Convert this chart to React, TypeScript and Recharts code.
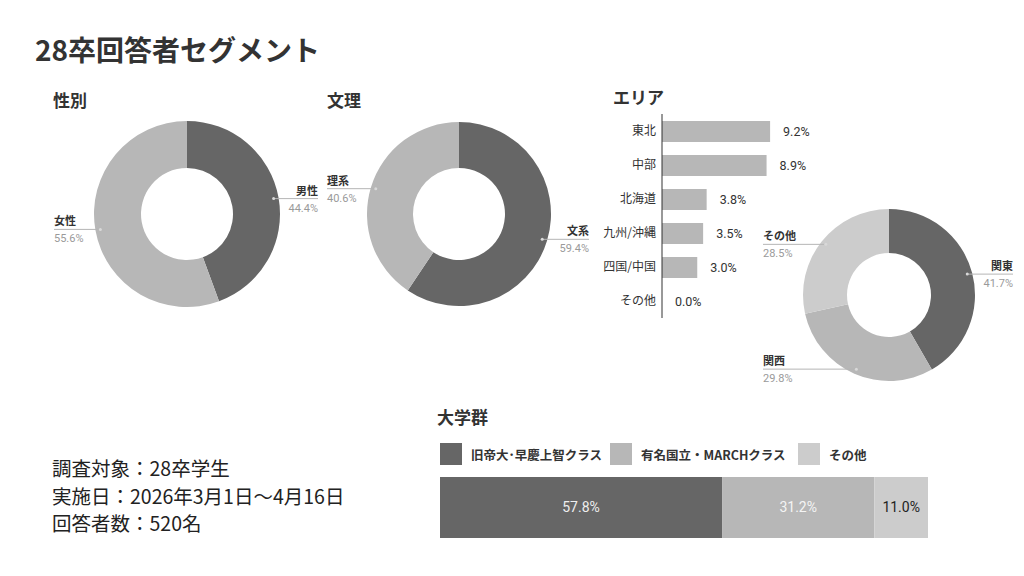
import React from 'react';
import { PieChart, Pie, Cell, BarChart, Bar, XAxis, YAxis, LabelList } from 'recharts';

// 性別
const GENDER_NAMES = ['男性', '女性'];
const GENDER_SHARES = [44.4, 55.6];
// 文理
const BUNRI_NAMES = ['文系', '理系'];
const BUNRI_SHARES = [59.4, 40.6];
// エリア（主要）
const AREA_MAIN_NAMES = ['関東', '関西', 'その他'];
const AREA_MAIN_SHARES = [41.7, 29.8, 28.5];
// エリア（その他内訳）
const AREA_OTHER_NAMES = ['東北', '中部', '北海道', '九州/沖縄', '四国/中国', 'その他'];
const AREA_OTHER_SHARES = [9.2, 8.9, 3.8, 3.5, 3.0, 0.0];
// 大学群
const UNIV_NAMES = ['旧帝大･早慶上智クラス', '有名国立・MARCHクラス', 'その他'];
const UNIV_SHARES = [57.8, 31.2, 11.0];

const INFO_LINES = ['調査対象：28卒学生', '実施日：2026年3月1日〜4月16日', '回答者数：520名'];

const DARK = '#666666';
const MID = '#b7b7b7';
const LIGHT = '#cccccc';
const TWO_TONE = [DARK, MID];
const THREE_TONE = [DARK, MID, LIGHT];
const UNIV_LABEL_COLORS = ['#eeeeee', '#f4f4f4', '#222222'];

const JP = '"Noto Sans CJK JP", "Noto Sans", sans-serif';
const NUM = 'Roboto, "Noto Sans CJK JP", sans-serif';
const RAD = Math.PI / 180;

const toRows = (names: string[], values: number[]) =>
  names.map((name, i) => ({ name, value: values[i] }));

// Callout label: a horizontal leader line with the name above and the share below.
const calloutLabel = (props: any) => {
  const { cx, cy, midAngle, outerRadius, name, value } = props;
  const r = outerRadius - 5;
  const x0 = cx + r * Math.cos(-midAngle * RAD);
  const y0 = cy + r * Math.sin(-midAngle * RAD);
  const right = x0 > cx;
  const x1 = right ? cx + outerRadius + 38 : cx - outerRadius - 40;
  const anchor = right ? 'end' : 'start';
  return (
    <g>
      <line x1={x0} y1={y0} x2={x1} y2={y0} stroke="#b5b5b5" strokeWidth={1} />
      <circle cx={x0} cy={y0} r={1.5} fill="#d8d8d8" />
      <text x={x1} y={y0 - 4} textAnchor={anchor} fontSize={11} fontWeight={700} fill="#333" fontFamily={JP}>
        {name}
      </text>
      <text x={x1} y={y0 + 13} textAnchor={anchor} fontSize={11} fill="#9a9a9a" fontFamily={NUM}>
        {`${Number(value).toFixed(1)}%`}
      </text>
    </g>
  );
};

type DonutProps = {
  left: number;
  top: number;
  width: number;
  height: number;
  cx: number;
  cy: number;
  inner: number;
  outer: number;
  names: string[];
  values: number[];
  colors: string[];
};

const Donut = ({ left, top, width, height, cx, cy, inner, outer, names, values, colors }: DonutProps) => (
  <div style={{ position: 'absolute', left, top }}>
    <PieChart width={width} height={height} margin={{ top: 0, right: 0, bottom: 0, left: 0 }}>
      <Pie
        data={toRows(names, values)}
        dataKey="value"
        nameKey="name"
        cx={cx}
        cy={cy}
        innerRadius={inner}
        outerRadius={outer}
        startAngle={90}
        endAngle={-270}
        stroke="none"
        label={calloutLabel}
        labelLine={false}
        isAnimationActive={false}
      >
        {names.map((n, i) => (
          <Cell key={n} fill={colors[i % colors.length]} />
        ))}
      </Pie>
    </PieChart>
  </div>
);

const heading = (text: string, left: number, top: number, size = 17) => (
  <div
    style={{
      position: 'absolute',
      left,
      top,
      fontSize: size,
      fontWeight: 700,
      color: '#333',
      lineHeight: 1,
      whiteSpace: 'nowrap',
    }}
  >
    {text}
  </div>
);

export default function App() {
  const areaRows = toRows(AREA_OTHER_NAMES, AREA_OTHER_SHARES);
  const univRow: Record<string, any> = { name: '大学群' };
  UNIV_NAMES.forEach((n, i) => {
    univRow[`s${i}`] = UNIV_SHARES[i];
  });

  return (
    <div
      style={{
        position: 'absolute',
        left: 0,
        top: 0,
        width: 1024,
        height: 576,
        background: '#ffffff',
        fontFamily: JP,
        overflow: 'hidden',
      }}
    >
      {heading('28卒回答者セグメント', 35, 35, 28)}
      {heading('性別', 53, 91)}
      {heading('文理', 327, 91)}
      {heading('エリア', 613, 88)}
      {heading('大学群', 437, 408)}

      <Donut left={30} top={90} width={310} height={250} cx={157} cy={124} inner={46} outer={93}
        names={GENDER_NAMES} values={GENDER_SHARES} colors={TWO_TONE} />
      <Donut left={310} top={90} width={290} height={250} cx={149} cy={124} inner={46} outer={92}
        names={BUNRI_NAMES} values={BUNRI_SHARES} colors={TWO_TONE} />
      <Donut left={740} top={195} width={284} height={200} cx={149} cy={100} inner={42} outer={86}
        names={AREA_MAIN_NAMES} values={AREA_MAIN_SHARES} colors={THREE_TONE} />

      {/* その他エリアの内訳 */}
      <div style={{ position: 'absolute', left: 590, top: 104 }}>
        <BarChart
          width={240}
          height={220}
          data={areaRows}
          layout="vertical"
          margin={{ top: 10, right: 50.5, bottom: 6, left: 0 }}
        >
          <XAxis type="number" hide domain={[0, 10]} />
          <YAxis
            type="category"
            dataKey="name"
            width={72}
            tickLine={false}
            tickSize={4}
            tickMargin={2}
            axisLine={{ stroke: '#333' }}
            tick={{ fontSize: 12, fill: '#333', fontFamily: JP }}
          />
          <Bar dataKey="value" fill={MID} barSize={21} minPointSize={0.01} isAnimationActive={false}>
            <LabelList
              dataKey="value"
              position="right"
              offset={13}
              fill="#333"
              fontSize={12.5}
              fontFamily={NUM}
              formatter={(v: any) => `${Number(v).toFixed(1)}%`}
            />
          </Bar>
        </BarChart>
      </div>

      {/* 大学群 legend */}
      {UNIV_NAMES.map((n, i) => {
        const x = [440, 610, 798][i];
        return (
          <div key={n} style={{ position: 'absolute', left: x, top: 443, display: 'flex', alignItems: 'center' }}>
            <div style={{ width: 22, height: 22, background: THREE_TONE[i] }} />
            <div style={{ marginLeft: 9, fontSize: 12.5, fontWeight: 700, color: '#333', whiteSpace: 'nowrap' }}>{n}</div>
          </div>
        );
      })}

      <div style={{ position: 'absolute', left: 440, top: 477 }}>
        <BarChart
          width={488}
          height={61}
          data={[univRow]}
          layout="vertical"
          margin={{ top: 0, right: 0, bottom: 0, left: 0 }}
          barCategoryGap={0}
        >
          <XAxis type="number" hide domain={[0, 100]} />
          <YAxis type="category" dataKey="name" hide />
          {UNIV_NAMES.map((n, i) => (
            <Bar key={n} dataKey={`s${i}`} name={n} stackId="u" fill={THREE_TONE[i]} isAnimationActive={false}>
              <LabelList
                dataKey={`s${i}`}
                position="center"
                fill={UNIV_LABEL_COLORS[i]}
                fontSize={14}
                fontFamily={NUM}
                formatter={(v: any) => `${Number(v).toFixed(1)}%`}
              />
            </Bar>
          ))}
        </BarChart>
      </div>

      <div style={{ position: 'absolute', left: 52, top: 454, fontSize: 19.5, lineHeight: '27.5px', color: '#222' }}>
        {INFO_LINES.map((t) => (
          <div key={t} style={{ whiteSpace: 'nowrap' }}>{t}</div>
        ))}
      </div>
    </div>
  );
}
